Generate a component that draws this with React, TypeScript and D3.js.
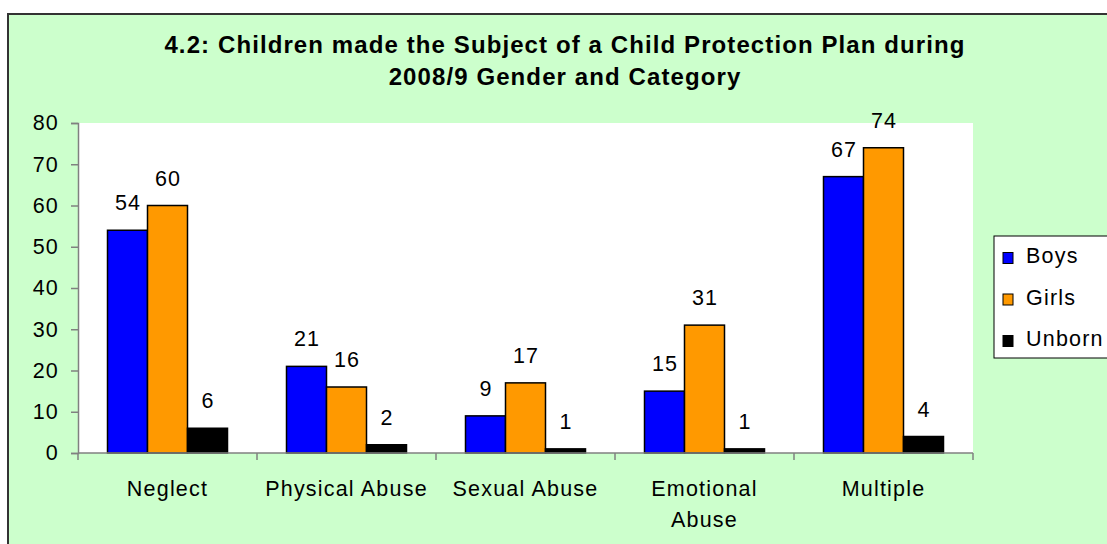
import React, { useEffect, useRef } from 'react';
import * as d3 from 'd3';

const categories = ['Neglect', 'Physical Abuse', 'Sexual Abuse', 'Emotional Abuse', 'Multiple'];
const categoryLines = [['Neglect'], ['Physical Abuse'], ['Sexual Abuse'], ['Emotional', 'Abuse'], ['Multiple']];
const seriesNames = ['Boys', 'Girls', 'Unborn'];
const seriesColors = ['#0000ff', '#ff9900', '#000000'];
const boys = [54, 21, 9, 15, 67];
const girls = [60, 16, 17, 31, 74];
const unborn = [6, 2, 1, 1, 4];
const yTicks = [0, 10, 20, 30, 40, 50, 60, 70, 80];
const titleLines = [
  '4.2: Children made the Subject of a Child Protection Plan during',
  '2008/9 Gender and Category',
];

const W = 1107;
const H = 544;
const font = '"Liberation Sans", Arial, sans-serif';
const fs = 21.5;
const ls = 1.2;

export default function App() {
  const ref = useRef<SVGSVGElement>(null);

  useEffect(() => {
    const svg = d3.select(ref.current);
    svg.selectAll('*').remove();

    const plot = { left: 78, right: 973, top: 123, bottom: 453 };
    const values = [boys, girls, unborn];

    // outer chart frame (runs off the page at right/bottom)
    svg.append('rect')
      .attr('x', 8).attr('y', 14)
      .attr('width', W + 20).attr('height', H + 20)
      .attr('fill', '#ccffcc')
      .attr('stroke', '#333').attr('stroke-width', 2);

    svg.append('rect')
      .attr('x', plot.left).attr('y', plot.top)
      .attr('width', plot.right - plot.left).attr('height', plot.bottom - plot.top)
      .attr('fill', '#fff');

    const title = svg.append('text')
      .attr('text-anchor', 'middle')
      .attr('font-family', font).attr('font-weight', 'bold')
      .attr('font-size', 24).attr('letter-spacing', 1.1);
    titleLines.forEach((t, i) => {
      title.append('tspan').attr('x', 565).attr('y', 53 + i * 32).text(t);
    });

    const x0 = d3.scaleBand().domain(categories).range([plot.left, plot.right]);
    const x1 = d3.scaleBand().domain(seriesNames).range([29.5, x0.bandwidth() - 29.5]);
    const y = d3.scaleLinear().domain([0, 80]).range([plot.bottom, plot.top]);

    // bars + value labels
    seriesNames.forEach((s, si) => {
      svg.append('g').selectAll('rect')
        .data(values[si])
        .enter().append('rect')
        .attr('x', (_d, i) => (x0(categories[i]) as number) + (x1(s) as number))
        .attr('y', d => y(d))
        .attr('width', x1.bandwidth())
        .attr('height', d => plot.bottom - y(d))
        .attr('fill', seriesColors[si])
        .attr('stroke', '#000').attr('stroke-width', 1.5);

      svg.append('g').selectAll('text')
        .data(values[si])
        .enter().append('text')
        .attr('x', (_d, i) => (x0(categories[i]) as number) + (x1(s) as number) + x1.bandwidth() / 2 + ls / 2)
        .attr('y', d => y(d) - 20)
        .attr('text-anchor', 'middle')
        .attr('font-family', font).attr('font-size', fs).attr('letter-spacing', ls)
        .text(d => d);
    });

    // y axis
    const yAxis = svg.append('g')
      .attr('transform', `translate(${plot.left},0)`)
      .call(d3.axisLeft(y).tickValues(yTicks).tickSize(7).tickPadding(12));
    yAxis.select('.domain').attr('stroke', '#808080').attr('stroke-width', 1.5);
    yAxis.selectAll('line').attr('stroke', '#808080').attr('stroke-width', 1.5);
    yAxis.selectAll('text')
      .attr('font-family', font).attr('font-size', fs).attr('fill', '#000')
      .attr('letter-spacing', ls);

    // x axis baseline + ticks at category boundaries
    svg.append('line')
      .attr('x1', plot.left).attr('x2', plot.right)
      .attr('y1', plot.bottom).attr('y2', plot.bottom)
      .attr('stroke', '#808080').attr('stroke-width', 1.5);
    const bounds = categories.map(c => x0(c) as number).concat([plot.right]);
    svg.append('g').selectAll('line')
      .data(bounds)
      .enter().append('line')
      .attr('x1', d => d).attr('x2', d => d)
      .attr('y1', plot.bottom).attr('y2', plot.bottom + 7)
      .attr('stroke', '#808080').attr('stroke-width', 1.5);

    const xl = svg.append('g').selectAll('text')
      .data(categoryLines)
      .enter().append('text')
      .attr('text-anchor', 'middle')
      .attr('font-family', font).attr('font-size', fs).attr('letter-spacing', ls);
    xl.each(function (lines, i) {
      const t = d3.select(this);
      lines.forEach((ln, j) => {
        t.append('tspan')
          .attr('x', (x0(categories[i]) as number) + x0.bandwidth() / 2)
          .attr('y', 496 + j * 31)
          .text(ln);
      });
    });

    // legend
    const lg = svg.append('g');
    lg.append('rect')
      .attr('x', 994).attr('y', 236).attr('width', 130).attr('height', 122)
      .attr('fill', '#fff').attr('stroke', '#000').attr('stroke-width', 1);
    seriesNames.forEach((s, i) => {
      const base = 263 + i * 41.5;
      lg.append('rect')
        .attr('x', 1003).attr('y', base - 10.5).attr('width', 10).attr('height', 11)
        .attr('fill', seriesColors[i]).attr('stroke', '#000').attr('stroke-width', 1);
      lg.append('text')
        .attr('x', 1026).attr('y', base)
        .attr('font-family', font).attr('font-size', fs).attr('letter-spacing', ls)
        .text(s);
    });
  }, []);

  return (
    <svg
      ref={ref}
      width={W}
      height={H}
      style={{ position: 'absolute', left: 0, top: 0, background: '#fff' }}
    />
  );
}
